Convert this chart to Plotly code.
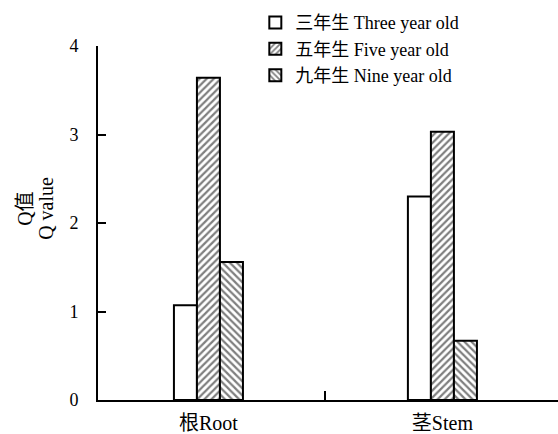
import plotly.graph_objects as go

# Q values by organ and plant age
categories = ["根Root", "茎Stem"]
cat_pos = [0, 1]
series_names = ["三年生 Three year old", "五年生 Five year old", "九年生 Nine year old"]
three_year = [1.07, 2.30]
five_year = [3.64, 3.03]
nine_year = [1.56, 0.67]

y_ticks = [0, 1, 2, 3, 4]
y_title_lines = ["Q值", "Q value"]

FONT = "Liberation Serif, Times New Roman, Noto Sans CJK SC, serif"

patterns = ["", "/", "\\"]
values = [three_year, five_year, nine_year]

fig = go.Figure()
for name, vals, pat in zip(series_names, values, patterns):
    fig.add_trace(go.Bar(
        x=cat_pos,
        y=vals,
        name=name,
        marker=dict(
            color="white",
            line=dict(color="black", width=2),
            pattern=dict(shape=pat, size=5, solidity=0.45,
                         fgcolor="black", bgcolor="white"),
        ),
    ))

# Two-line vertical axis title
for line, xpx in zip(y_title_lines, [-73, -52]):
    fig.add_annotation(
        text=line, textangle=-90,
        xref="paper", yref="paper",
        x=xpx / 460, y=0.54,
        xanchor="center", yanchor="middle",
        showarrow=False,
        font=dict(family=FONT, size=20, color="black"),
    )

fig.update_layout(
    width=558,
    height=434,
    margin=dict(l=98, r=0, t=46, b=34),
    paper_bgcolor="white",
    plot_bgcolor="white",
    barmode="group",
    bargap=0.705,
    bargroupgap=0,
    font=dict(family=FONT, size=18, color="black"),
    showlegend=True,
    legend=dict(
        x=0.342, y=1.118, xanchor="left", yanchor="top",
        bgcolor="rgba(0,0,0,0)",
        font=dict(family=FONT, size=18, color="black"),
        tracegroupgap=0,
        itemwidth=30,
    ),
    xaxis=dict(
        range=[-0.472, 1.494],
        tickmode="array",
        tickvals=cat_pos,
        ticktext=categories,
        ticks="",
        showline=True,
        linecolor="black",
        linewidth=2,
        showgrid=False,
        zeroline=False,
        ticklabelstandoff=4,
        tickfont=dict(family=FONT, size=20, color="black"),
        minor=dict(tickmode="array", tickvals=[0.5], ticks="inside",
                   ticklen=9, tickwidth=2, tickcolor="black"),
    ),
    yaxis=dict(
        range=[0, 4],
        tickmode="array",
        tickvals=y_ticks,
        ticks="inside",
        ticklen=8,
        tickwidth=2,
        tickcolor="black",
        showline=True,
        linecolor="black",
        linewidth=2,
        showgrid=False,
        zeroline=False,
        ticklabelstandoff=14,
        tickfont=dict(family=FONT, size=18, color="black"),
    ),
)

fig.write_html("out.html")
